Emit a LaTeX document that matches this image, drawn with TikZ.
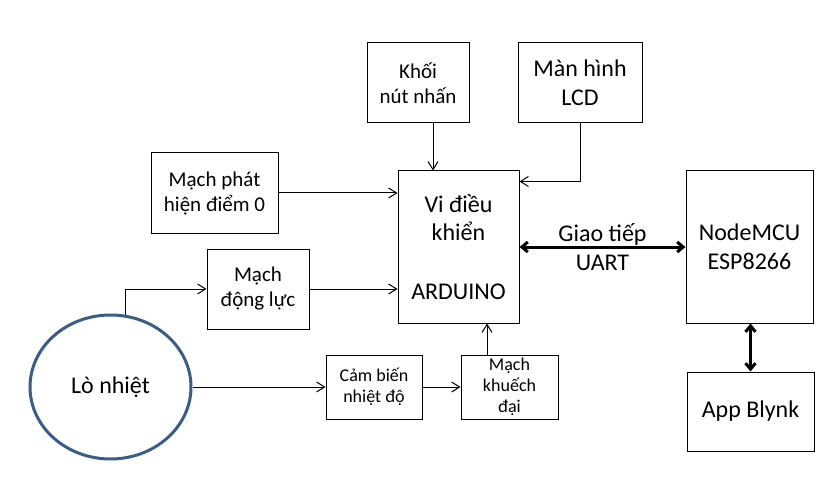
\documentclass[tikz,border=0pt]{standalone}
\usepackage{fontspec}
\setmainfont{Carlito}
\usetikzlibrary{arrows.meta,shapes.geometric}
\definecolor{ovalblue}{RGB}{56,93,138}
\begin{document}
\begin{tikzpicture}[x=1pt,y=-1pt,
 box/.style={draw,line width=1pt,inner sep=0pt,align=center,text=black},
 big/.style={font=\fontsize{24}{28.5}\selectfont},
 mid/.style={font=\fontsize{21}{25}\selectfont},
 small/.style={font=\fontsize{18}{21}\selectfont},
 arr/.style={line width=1pt,-{Straight Barb[length=8pt,width=10pt]}},
 darr/.style={line width=3pt,{Straight Barb[length=6pt,width=10pt]}-{Straight Barb[length=6pt,width=10pt]}}]
\useasboundingbox[fill=white] (0,0) rectangle (834,486);

\node[box,mid,minimum width=102pt,minimum height=80pt] (khoi) at (418,83) {Khối\\nút nhấn};
\node[box,big,minimum width=124pt,minimum height=80pt] (lcd) at (580,83) {Màn hình\\LCD};
\node[box,big,minimum width=121pt,minimum height=152pt] (vdk) at (458.5,247) {Vi điều\\khiển\\[30pt]ARDUINO};
\node[box,mid,minimum width=127pt,minimum height=80pt] (phat) at (214.5,193) {Mạch phát\\hiện điểm 0};
\node[box,mid,minimum width=102pt,minimum height=80pt] (dl) at (258,289) {Mạch\\động lực};
\node[ellipse,draw=ovalblue,line width=3pt,big,inner sep=0pt,minimum width=161pt,minimum height=144pt] (lo) at (110.5,387) {Lò nhiệt};
\node[box,small,minimum width=96pt,minimum height=64pt] (cb) at (374,387) {Cảm biến\\nhiệt độ};
\node[box,small,minimum width=97pt,minimum height=64pt] (kd) at (509.5,387) {Mạch\\khuếch\\đại};
\node[box,big,minimum width=127pt,minimum height=152pt] (mcu) at (749.5,247) {NodeMCU\\ESP8266};
\node[box,big,minimum width=127pt,minimum height=79pt] (blynk) at (750.5,411.5) {App Blynk};

\draw[arr] ([xshift=15pt]khoi.south) -- ([xshift=15pt]khoi.south |- vdk.north);
\draw[arr] (lcd.south) |- ([yshift=-11pt]vdk.north east);
\draw[arr] (phat.east) -- (phat.east -| vdk.west);
\draw[arr] (dl.east) -- (dl.east -| vdk.west);
\draw[arr] (lo.78) |- (dl.west);
\draw[arr] (lo.east) -- (cb.west);
\draw[arr] (cb.east) -- (kd.west);
\draw[arr] ([xshift=-22.5pt]kd.north) -- ([xshift=-22.5pt]kd.north |- vdk.south);
\draw[darr] (vdk.east) -- node[big,align=center,inner sep=0pt] (uart) {Giao tiếp\\UART} (mcu.west);
\draw[darr] ([xshift=1pt]mcu.south) -- ([xshift=1pt]mcu.south |- blynk.north);
\end{tikzpicture}
\end{document}
